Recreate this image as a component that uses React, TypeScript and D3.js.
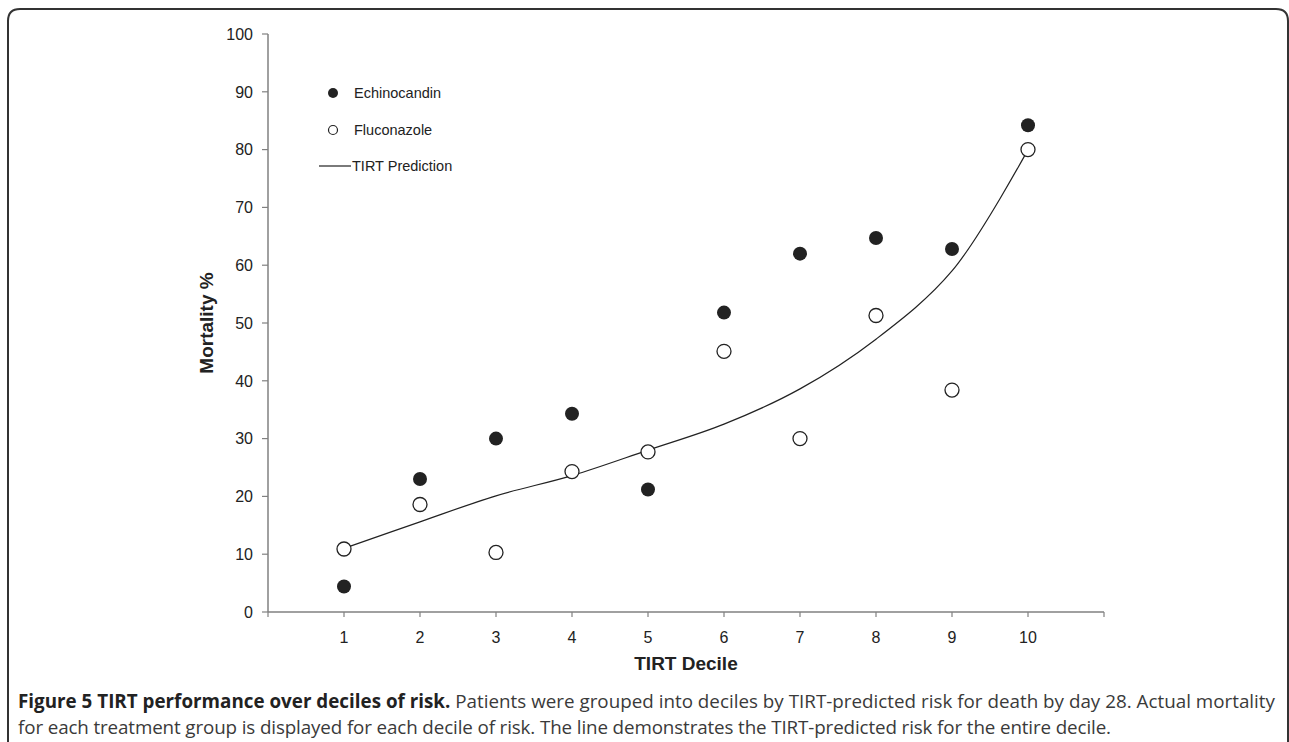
import React from "react";
import * as d3 from "d3";

const deciles = [1, 2, 3, 4, 5, 6, 7, 8, 9, 10];
const echinocandin = [4.4, 23.0, 30.0, 34.3, 21.2, 51.8, 62.0, 64.7, 62.8, 84.2];
const fluconazole = [10.9, 18.6, 10.3, 24.3, 27.7, 45.1, 30.0, 51.3, 38.4, 80.0];
const tirtPrediction = [11.0, 15.6, 20.1, 23.6, 28.0, 32.5, 38.6, 47.2, 59.0, 80.0];
const yTicks = [0, 10, 20, 30, 40, 50, 60, 70, 80, 90, 100];

const W = 1289;
const H = 742;
const left = 268;
const right = 1104;
const top = 34;
const bottom = 612;

export default function App() {
  const x = d3.scaleLinear().domain([0, 11]).range([left, right]);
  const y = d3.scaleLinear().domain([0, 100]).range([bottom, top]);
  const line = d3
    .line<number>()
    .x((_, i) => x(deciles[i]))
    .y((d) => y(d))
    .curve(d3.curveCatmullRom.alpha(0.5));
  const axisColor = "#808080";
  const textColor = "#222";
  const font = "'Liberation Sans', Arial, sans-serif";
  const r = 7;
  return (
    <div style={{ position: "absolute", left: 0, top: 0 }}>
      <svg width={W} height={H} style={{ display: "block", background: "#fff" }}>
        <path
          d={`M8,${H + 10} L8,21 Q8,9 20,9 L${W - 13},9 Q${W - 1},9 ${W - 1},21 L${W - 1},${H + 10}`}
          fill="none"
          stroke="#333"
          strokeWidth={2}
        />
        {/* y axis */}
        <line x1={left} x2={left} y1={top} y2={bottom} stroke={axisColor} strokeWidth={1.5} />
        {yTicks.map((t) => (
          <g key={t}>
            <line x1={left - 6} x2={left} y1={y(t)} y2={y(t)} stroke={axisColor} strokeWidth={1.2} />
            <text
              x={left - 15}
              y={y(t)}
              dy="0.36em"
              textAnchor="end"
              fontFamily={font}
              fontSize={16}
              fill={textColor}
            >
              {t}
            </text>
          </g>
        ))}
        {/* x axis */}
        <line x1={left} x2={right} y1={bottom} y2={bottom} stroke={axisColor} strokeWidth={1.5} />
        {[0, ...deciles, 11].map((d) => (
          <line key={d} x1={x(d)} x2={x(d)} y1={bottom} y2={bottom + 5} stroke={axisColor} strokeWidth={1.2} />
        ))}
        {deciles.map((d) => (
          <text
            key={d}
            x={x(d)}
            y={bottom + 31}
            textAnchor="middle"
            fontFamily={font}
            fontSize={16}
            fill={textColor}
          >
            {d}
          </text>
        ))}
        <text
          x={(left + right) / 2}
          y={670}
          textAnchor="middle"
          fontFamily={font}
          fontSize={19}
          fontWeight="bold"
          fill={textColor}
        >
          TIRT Decile
        </text>
        <text
          transform={`translate(213,${(top + bottom) / 2}) rotate(-90)`}
          textAnchor="middle"
          fontFamily={font}
          fontSize={19}
          fontWeight="bold"
          fill={textColor}
        >
          Mortality %
        </text>
        {/* prediction line */}
        <path d={line(tirtPrediction) || ""} fill="none" stroke="#222" strokeWidth={1.2} />
        {/* points */}
        {fluconazole.map((v, i) => (
          <circle key={"f" + i} cx={x(deciles[i])} cy={y(v)} r={r} fill="#fff" stroke="#222" strokeWidth={1.3} />
        ))}
        {echinocandin.map((v, i) => (
          <circle key={"e" + i} cx={x(deciles[i])} cy={y(v)} r={r} fill="#222" />
        ))}
        {/* legend */}
        <circle cx={333} cy={93} r={5} fill="#222" />
        <text x={354} y={93} dy="0.36em" fontFamily={font} fontSize={14.5} fill={textColor}>
          Echinocandin
        </text>
        <circle cx={333} cy={130} r={4.5} fill="#fff" stroke="#222" strokeWidth={1.2} />
        <text x={354} y={130} dy="0.36em" fontFamily={font} fontSize={14.5} fill={textColor}>
          Fluconazole
        </text>
        <line x1={319} x2={351} y1={166} y2={166} stroke="#222" strokeWidth={1.2} />
        <text x={352} y={166} dy="0.36em" fontFamily={font} fontSize={14.5} fill={textColor}>
          TIRT Prediction
        </text>
        {/* caption */}
        <text
          x={18}
          y={708}
          fontFamily="'Open Sans', sans-serif"
          fontSize={18.8}
          fill="#3a3a3a"
          textLength={1257}
          lengthAdjust="spacing"
        >
          <tspan fontWeight="bold" fill="#222">Figure 5 TIRT performance over deciles of risk.</tspan>
          <tspan> Patients were grouped into deciles by TIRT-predicted risk for death by day 28. Actual mortality</tspan>
        </text>
        <text
          x={18}
          y={734}
          fontFamily="'Open Sans', sans-serif"
          fontSize={18.8}
          fill="#3a3a3a"
          textLength={1093}
          lengthAdjust="spacing"
        >
          for each treatment group is displayed for each decile of risk. The line demonstrates the TIRT-predicted risk for the entire decile.
        </text>
      </svg>
    </div>
  );
}
